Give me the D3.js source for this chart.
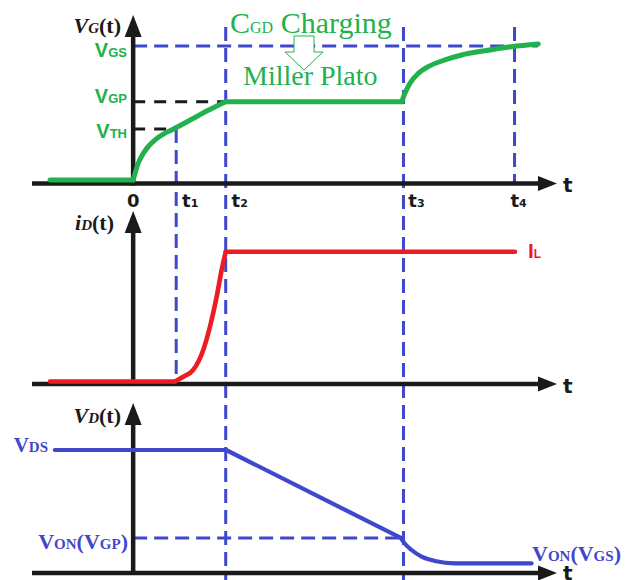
<!DOCTYPE html>
<html>
<head>
<meta charset="utf-8">
<script src="https://cdn.jsdelivr.net/npm/d3@7"></script>
<style>
  body { margin: 0; background: #fff; }
</style>
</head>
<body>
<div id="chart"></div>
<script>
// time marks on the t axis
const tickTimes = [0, 1, 2.15, 6.28, 8.86];
const tickNames = ["0", "t1", "t2", "t3", "t4"];

// gate voltage levels (VGS = 1)
const gateLevelNames = ["GS", "GP", "TH"];
const gateLevelValues = [1, 0.584, 0.38];

// drain voltage levels (VDS = 1)
const vonGP = 0.285;

// VG(t) pieces [time, value]
const vgOff = [[-1.93, 0], [0, 0]];
const vgRise = [[0, 0], [0.118, 0.125], [0.274, 0.218], [0.583, 0.318], [0.971, 0.386],
  [1.359, 0.453], [1.744, 0.52], [2.144, 0.584]];
const vgPlateau = [[2.144, 0.584], [6.24, 0.584]];
const vgRise2 = [[6.24, 0.584], [6.314, 0.647], [6.43, 0.722], [6.623, 0.796], [6.855, 0.846],
  [7.243, 0.896], [7.63, 0.933], [8.172, 0.965], [8.792, 0.995], [9.41, 1.015]];

// iD(t) pieces (IL = 1)
const idOff = [[-1.93, 0], [0.97, 0]];
const idRise = [[0.97, 0], [1.164, 0.037], [1.396, 0.089], [1.628, 0.243], [1.784, 0.422],
  [1.94, 0.653], [2.056, 0.859], [2.15, 1]];
const idOn = [[2.15, 1], [8.87, 1]];

// VD(t) pieces
const vdFall = [[-1.82, 1], [2.16, 1], [6.22, 0.285]];
const vdTail = [[6.22, 0.285], [6.274, 0.255], [6.469, 0.187], [6.702, 0.133], [7.011, 0.098],
  [7.476, 0.079], [9.257, 0.079]];

// ---- layout ----
const width = 625, height = 580;
const green = "#22b14c", red = "#ed1c24", blue = "#3f48cc", ink = "#1a1a1a";
const serif = "'Liberation Serif', 'Times New Roman', serif";
const sans = "'DejaVu Sans', sans-serif";
const lsans = "'Liberation Sans', Arial, sans-serif";

const x = d3.scaleLinear().domain([-2.35, 9.8]).range([32, 555]);
const yTop = d3.scaleLinear().domain([0, 1]).range([180, 46]);
const yMid = d3.scaleLinear().domain([0, 1]).range([381.5, 251.7]);
const yBot = d3.scaleLinear().domain([0, 1]).range([573, 450]);

const panels = [
  {axisY: 183.5, tipY: 15, labelY: 192},
  {axisY: 384, tipY: 211, labelY: 393},
  {axisY: 573, tipY: 403, labelY: 580}
];

const svg = d3.select("#chart")
  .append("svg")
  .attr("width", width)
  .attr("height", height);

// ---- dashed guides ----
const guides = svg.append("g").attr("fill", "none");

function dash(x1, y1, x2, y2, color, pattern) {
  guides.append("line")
    .attr("x1", x1).attr("y1", y1).attr("x2", x2).attr("y2", y2)
    .attr("stroke", color)
    .attr("stroke-width", 3)
    .attr("stroke-dasharray", pattern);
}

const bluePat = "14,7", blackPat = "12,9";
// horizontals
dash(x(0), yTop(gateLevelValues[0]), x(9.4), yTop(gateLevelValues[0]), blue, bluePat);
dash(x(0), yTop(gateLevelValues[1]), x(tickTimes[2]), yTop(gateLevelValues[1]), ink, blackPat);
dash(x(0), yTop(gateLevelValues[2]), x(tickTimes[1]), yTop(gateLevelValues[2]), ink, blackPat);
dash(x(0), yBot(vonGP), x(tickTimes[3]), yBot(vonGP), blue, bluePat);
// verticals
dash(x(tickTimes[1]), yTop(gateLevelValues[2]), x(tickTimes[1]), panels[1].axisY, blue, bluePat);
dash(x(tickTimes[2]), 27, x(tickTimes[2]), height, blue, bluePat);
dash(x(tickTimes[3]), 27, x(tickTimes[3]), height, blue, bluePat);
dash(x(tickTimes[4]), 27, x(tickTimes[4]), panels[0].axisY, blue, bluePat);

// ---- axes with arrow heads ----
const axes = svg.append("g");
panels.forEach(p => {
  axes.append("line")
    .attr("x1", x(-2.35)).attr("x2", 540)
    .attr("y1", p.axisY).attr("y2", p.axisY)
    .attr("stroke", ink).attr("stroke-width", 4.5);
  axes.append("path")
    .attr("d", `M557,${p.axisY} L538,${p.axisY - 7.5} L538,${p.axisY + 7.5} Z`)
    .attr("fill", ink);
  axes.append("line")
    .attr("x1", x(0)).attr("x2", x(0))
    .attr("y1", p.axisY + 2).attr("y2", p.tipY + 18)
    .attr("stroke", ink).attr("stroke-width", 4.5);
  axes.append("path")
    .attr("d", `M${x(0)},${p.tipY} L${x(0) - 8.5},${p.tipY + 22} L${x(0) + 8.5},${p.tipY + 22} Z`)
    .attr("fill", ink);
  axes.append("text")
    .attr("x", 563).attr("y", p.labelY)
    .attr("font-family", sans).attr("font-weight", "bold")
    .attr("font-size", 20).attr("fill", ink)
    .text("t");
});

// ---- curves ----
function trace(data, ys, color, w, curve) {
  svg.append("path")
    .datum(data)
    .attr("fill", "none")
    .attr("stroke", color)
    .attr("stroke-width", w)
    .attr("stroke-linecap", "round")
    .attr("stroke-linejoin", "round")
    .attr("d", d3.line().x(d => x(d[0])).y(d => ys(d[1])).curve(curve));
}

trace(vgOff, yTop, green, 5, d3.curveLinear);
trace(vgRise, yTop, green, 5, d3.curveMonotoneX);
trace(vgPlateau, yTop, green, 5, d3.curveLinear);
trace(vgRise2, yTop, green, 5, d3.curveMonotoneX);

trace(idOff, yMid, red, 4.6, d3.curveLinear);
trace(idRise, yMid, red, 4.6, d3.curveMonotoneX);
trace(idOn, yMid, red, 4.6, d3.curveLinear);

trace(vdFall, yBot, blue, 4.2, d3.curveLinear);
trace(vdTail, yBot, blue, 4.2, d3.curveMonotoneX);

// ---- text helpers ----
function rich(px, py, parts, opt) {
  const t = svg.append("text")
    .attr("x", px).attr("y", py)
    .attr("font-family", opt.family)
    .attr("font-weight", opt.weight || "bold")
    .attr("text-anchor", opt.anchor || "start")
    .attr("fill", opt.color);
  parts.forEach(p => {
    t.append("tspan")
      .attr("font-size", p[1])
      .attr("font-style", p[2] ? "italic" : "normal")
      .text(p[0]);
  });
  return t;
}

// tick labels on the top time axis
const tickDx = [0, 14, 14, 13, 4];
tickNames.forEach((name, i) => {
  const parts = name.length > 1 ? [[name[0], 18], [name.slice(1), 11]] : [[name, 18]];
  rich(x(tickTimes[i]) + tickDx[i], 207, parts, {family: sans, color: ink, anchor: "middle"});
});

// axis titles
rich(121, 33, [["V", 22, true], ["G", 15, true], ["(t)", 22]], {family: serif, color: ink, anchor: "end"});
rich(114, 230, [["i", 22, true], ["D", 15, true], ["(t)", 22]], {family: serif, color: ink, anchor: "end"});
rich(121, 423, [["V", 22, true], ["D", 15, true], ["(t)", 22]], {family: serif, color: ink, anchor: "end"});

// gate levels
const gateBase = [57, 103, 137.5];
gateLevelNames.forEach((n, i) => {
  rich(127, gateBase[i], [["V", 20], [n, 13]], {family: lsans, color: green, anchor: "end"});
});

// load current
rich(528, 258, [["I", 21], ["L", 12]], {family: lsans, color: red});

// drain levels
rich(48, 452, [["V", 21], ["DS", 15]], {family: serif, color: blue, anchor: "end"});
rich(128, 549, [["V", 22], ["ON", 15], ["(", 22], ["V", 22], ["GP", 15], [")", 22]],
  {family: serif, color: blue, anchor: "end"});
rich(532, 561, [["V", 22], ["ON", 15], ["(", 22], ["V", 22], ["GS", 15], [")", 22]],
  {family: serif, color: blue});

// Miller plateau note
rich(230, 33, [["C", 30], ["GD", 16], [" Charging", 30]], {family: serif, color: green, weight: "normal"});
rich(243, 85, [["Miller Plato", 28]], {family: serif, color: green, weight: "normal"});

svg.append("path")
  .attr("d", "M294,36 L314,36 L314,52 L323,52 L304,70 L285,52 L294,52 Z")
  .attr("fill", "#fff")
  .attr("stroke", green)
  .attr("stroke-width", 1);
</script>
</body>
</html>
